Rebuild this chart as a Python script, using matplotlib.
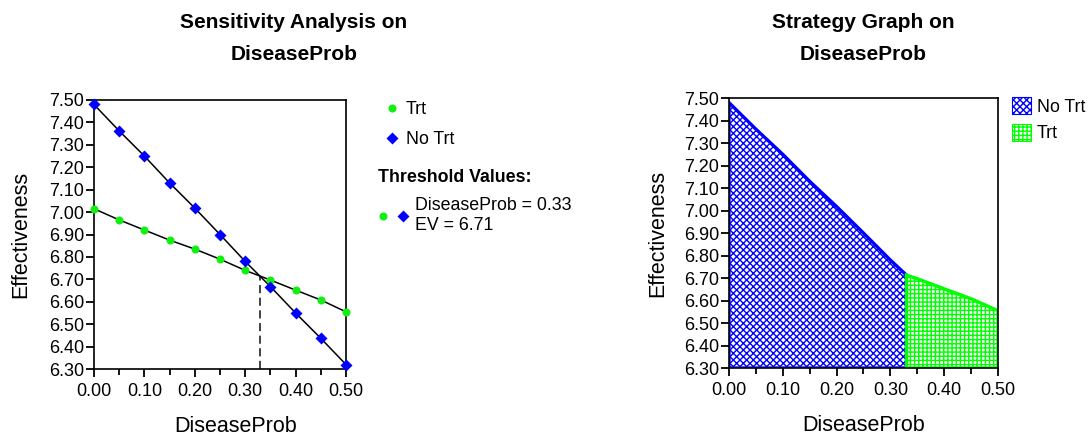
import numpy as np
import matplotlib
matplotlib.use('Agg')
import matplotlib.pyplot as plt
from matplotlib.patches import Polygon, Patch
from matplotlib.lines import Line2D
from matplotlib.ticker import MultipleLocator, FormatStrFormatter

plt.rcParams['font.family'] = ['Liberation Sans', 'DejaVu Sans']
plt.rcParams['hatch.linewidth'] = 1.0

# data
disease_prob = [0.00, 0.05, 0.10, 0.15, 0.20, 0.25, 0.30, 0.35, 0.40, 0.45, 0.50]
trt = [7.015, 6.965, 6.920, 6.875, 6.835, 6.790, 6.740, 6.697, 6.652, 6.608, 6.555]
no_trt = [7.480, 7.362, 7.250, 7.130, 7.018, 6.900, 6.780, 6.668, 6.550, 6.437, 6.320]
threshold = 0.33
threshold_ev = 6.71
y_min, y_max = 6.30, 7.50

BLUE = '#0000ff'
GREEN = '#00ff00'
DOT_GREEN = '#11ee11'

TICK_FS = 13
LABEL_FS = 15.5
TITLE_FS = 15
LEG_FS = 12.8

fig = plt.figure(figsize=(10.89, 4.38), dpi=100)
ax1 = fig.add_axes([0.0863, 0.1575, 0.2314, 0.6142])
ax2 = fig.add_axes([0.6694, 0.1598, 0.2470, 0.6162])


def style_axes(ax):
    ax.set_xlim(0, 0.5)
    ax.set_ylim(y_min, y_max)
    ax.xaxis.set_major_locator(MultipleLocator(0.1))
    ax.xaxis.set_minor_locator(MultipleLocator(0.05))
    ax.yaxis.set_major_locator(MultipleLocator(0.1))
    ax.xaxis.set_major_formatter(FormatStrFormatter('%.2f'))
    ax.yaxis.set_major_formatter(FormatStrFormatter('%.2f'))
    ax.tick_params(which='major', direction='out', length=6, width=1.3,
                   labelsize=TICK_FS, colors='black')
    ax.tick_params(which='minor', direction='out', length=4, width=1.3)
    ax.tick_params(axis='x', which='major', pad=4)
    ax.tick_params(axis='y', which='major', pad=1)
    for s in ax.spines.values():
        s.set_linewidth(1.2)
    ax.set_xlabel('DiseaseProb', fontsize=LABEL_FS)
    ax.set_ylabel('Effectiveness', fontsize=LABEL_FS)


# left: sensitivity analysis
style_axes(ax1)
ax1.xaxis.set_label_coords(0.563, -0.175)
ax1.yaxis.set_label_coords(-0.25, 0.5)
ax1.plot(disease_prob, trt, color='black', lw=1.1, zorder=2)
ax1.plot(disease_prob, no_trt, color='black', lw=1.1, zorder=2)
ax1.plot(disease_prob, trt, 'o', color=DOT_GREEN, ms=5.8, mec='none', zorder=3, clip_on=False)
ax1.plot(disease_prob, no_trt, 'D', color=BLUE, ms=6.5, mec='none', zorder=4, clip_on=False)
ax1.plot([threshold, threshold], [y_min, threshold_ev], color='#333333',
         lw=1.3, ls=(0, (4.5, 2.5)), zorder=1)

# legend of left chart, drawn as figure artists
fig.add_artist(Line2D([392 / 1089], [1 - 108 / 438], marker='o', color=DOT_GREEN, ms=5.8, mec='none'))
fig.text(406 / 1089, 1 - 110 / 438, 'Trt', fontsize=LEG_FS, va='center')
fig.add_artist(Line2D([392 / 1089], [1 - 138 / 438], marker='D', color=BLUE, ms=6.5, mec='none'))
fig.text(406 / 1089, 1 - 140 / 438, 'No Trt', fontsize=LEG_FS, va='center')
fig.text(378 / 1089, 1 - 177 / 438, 'Threshold Values:', fontsize=LEG_FS,
         fontweight='bold', va='center')
fig.add_artist(Line2D([383 / 1089], [1 - 216 / 438], marker='o', color=DOT_GREEN, ms=5.8, mec='none'))
fig.add_artist(Line2D([403 / 1089], [1 - 216 / 438], marker='D', color=BLUE, ms=6.5, mec='none'))
fig.text(415 / 1089, 1 - 206 / 438, 'DiseaseProb = %.2f' % threshold, fontsize=LEG_FS, va='center')
fig.text(415 / 1089, 1 - 226 / 438, 'EV = %.2f' % threshold_ev, fontsize=LEG_FS, va='center')

fig.text(294 / 1089, 1 - 23 / 438, 'Sensitivity Analysis on', fontsize=TITLE_FS,
         fontweight='bold', ha='center', va='center')
fig.text(294 / 1089, 1 - 54 / 438, 'DiseaseProb', fontsize=TITLE_FS,
         fontweight='bold', ha='center', va='center')

# right: strategy graph
style_axes(ax2)
ax2.xaxis.set_label_coords(0.5, -0.175)
ax2.yaxis.set_label_coords(-0.227, 0.5)
xs = np.array(disease_prob)
best_at_thr = np.interp(threshold, xs, no_trt)
left_x = [x for x in disease_prob if x < threshold]
left_y = [v for x, v in zip(disease_prob, no_trt) if x < threshold]
blue_pts = [(0, y_min)] + list(zip(left_x, left_y)) + [(threshold, best_at_thr), (threshold, y_min)]
right_x = [x for x in disease_prob if x > threshold]
right_y = [v for x, v in zip(disease_prob, trt) if x > threshold]
green_pts = [(threshold, y_min), (threshold, best_at_thr)] + list(zip(right_x, right_y)) + [(0.5, y_min)]

ax2.add_patch(Polygon(blue_pts, closed=True, facecolor='white', edgecolor=BLUE,
                      hatch='xxxxx', lw=2.4, zorder=2))
ax2.add_patch(Polygon(green_pts, closed=True, facecolor='white', edgecolor=GREEN,
                      hatch='++++', lw=2.4, zorder=2))
ax2.spines['right'].set_zorder(3)

fig.legend(handles=[Patch(facecolor='white', edgecolor=BLUE, hatch='xxxxx', lw=0.8, label='No Trt'),
                    Patch(facecolor='white', edgecolor=GREEN, hatch='++++', lw=0.8, label='Trt')],
           loc='upper left', bbox_to_anchor=(1012 / 1089, 1 - 97 / 438), bbox_transform=fig.transFigure,
           frameon=False, fontsize=LEG_FS, handlelength=1.05, handleheight=1.1,
           handletextpad=0.35, labelspacing=0.45, borderaxespad=0, borderpad=0)

fig.text(863 / 1089, 1 - 23 / 438, 'Strategy Graph on', fontsize=TITLE_FS,
         fontweight='bold', ha='center', va='center')
fig.text(863 / 1089, 1 - 54 / 438, 'DiseaseProb', fontsize=TITLE_FS,
         fontweight='bold', ha='center', va='center')

fig.savefig('out.png', dpi=100)
